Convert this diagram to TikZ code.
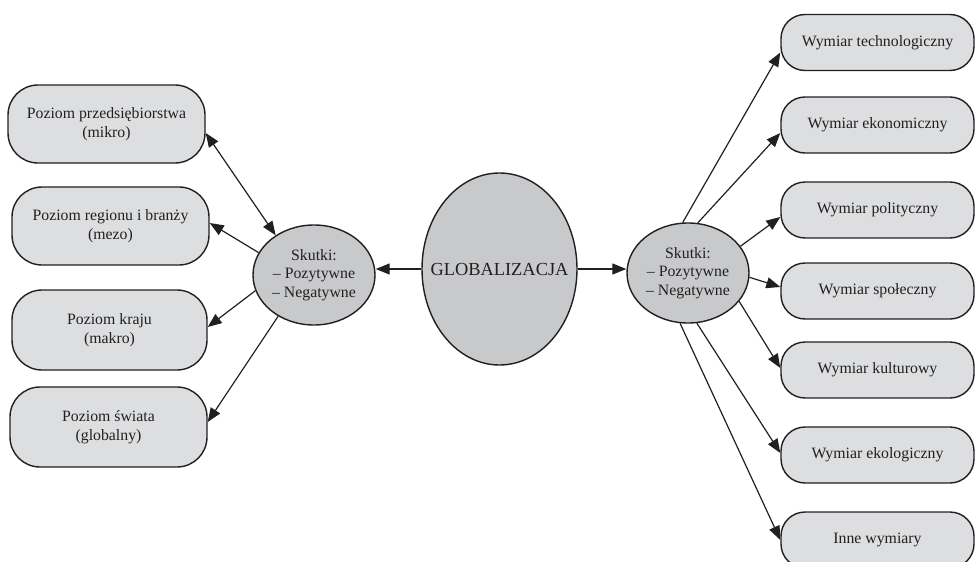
\documentclass[tikz,border=0pt]{standalone}
\usepackage{fontspec}
\setmainfont{Liberation Serif}
\usetikzlibrary{arrows.meta,shapes.geometric}
\definecolor{boxfill}{RGB}{221,222,223}
\definecolor{ellfill}{RGB}{200,201,203}
\definecolor{ink}{RGB}{35,31,32}
\begin{document}
\begin{tikzpicture}[x=1pt,y=-1pt,
  txt/.style={text=ink,font=\fontsize{15.8}{18.5}\selectfont,align=center},
  lbox/.style={txt,draw=ink,line width=1.4pt,fill=boxfill,rounded corners=30pt,
    minimum width=197pt,minimum height=78pt,inner sep=0pt},
  rbox/.style={txt,draw=ink,line width=1.4pt,fill=boxfill,rounded corners=24pt,
    minimum width=193pt,minimum height=56pt,inner sep=0pt},
  skell/.style={txt,ellipse,draw=ink,line width=1.4pt,fill=ellfill,
    minimum width=122pt,minimum height=100pt,inner sep=0pt},
  conn/.style={draw=ink,line width=1.2pt,-{Triangle[length=14pt,width=11pt]}},
  conn2/.style={draw=ink,line width=1.2pt,{Triangle[length=14pt,width=11pt]}-{Triangle[length=14pt,width=11pt]}}
]
\useasboundingbox (0,0) rectangle (975,562);
\node[lbox] (L1) at (106.5,124) {Poziom przedsiębiorstwa\\(mikro)};
\node[lbox] (L2) at (110.5,226) {Poziom regionu i branży\\(mezo)};
\node[lbox,minimum width=195pt,minimum height=80pt] (L3) at (109.5,330) {Poziom kraju\\(makro)};
\node[lbox,minimum height=80pt] (L4) at (108.5,427) {Poziom świata\\(globalny)};

\node[rbox] (R1) at (877.5,42.5) {Wymiar technologiczny};
\node[rbox] (R2) at (877.5,125) {Wymiar ekonomiczny};
\node[rbox] (R3) at (877.5,210) {Wymiar polityczny};
\node[rbox] (R4) at (877.5,291) {Wymiar społeczny};
\node[rbox] (R5) at (877.5,370) {Wymiar kulturowy};
\node[rbox] (R6) at (877.5,455) {Wymiar ekologiczny};
\node[rbox] (R7) at (877.5,540) {Inne wymiary};

\node[skell] (EL) at (314,275) {\makebox[0pt]{\begin{tabular}{@{}c@{}}Skutki:\\– Pozytywne\\– Negatywne\end{tabular}}};
\node[skell] (ER) at (688,273) {\makebox[0pt]{\begin{tabular}{@{}c@{}}Skutki:\\– Pozytywne\\– Negatywne\end{tabular}}};
\node[txt,ellipse,draw=ink,line width=1.4pt,fill=ellfill,minimum width=155pt,
  minimum height=192pt,inner sep=0pt,font=\fontsize{18.4}{22}\selectfont] (G) at (499.5,269) {\makebox[0pt]{GLOBALIZACJA}};

\draw[conn] (G.west) -- (G.west -| EL.east);
\draw[conn] (G.east) -- (G.east -| ER.west);

\draw[conn2] ([yshift=-9pt]L1.east) -- (EL.134);
\draw[conn] (EL.158) -- ([yshift=3pt]L2.east);
\draw[conn] (EL.195) -- ([yshift=3pt]L3.east);
\draw[conn] (EL.229) -- ([yshift=5pt]L4.east);

\draw[conn] (ER.96) -- ([yshift=-10pt]R1.west);
\draw[conn] (ER.79) -- ([yshift=-8pt]R2.west);
\draw[conn] (ER.27) -- ([yshift=-7pt]R3.west);
\draw[conn] (ER.-4) -- ([yshift=4pt]R4.west);
\draw[conn] (ER.-29) -- ([yshift=2pt]R5.west);
\draw[conn] (ER.-80) -- ([yshift=2pt]R6.west);
\draw[conn] (ER.-99) -- (R7.west);
\end{tikzpicture}
\end{document}
